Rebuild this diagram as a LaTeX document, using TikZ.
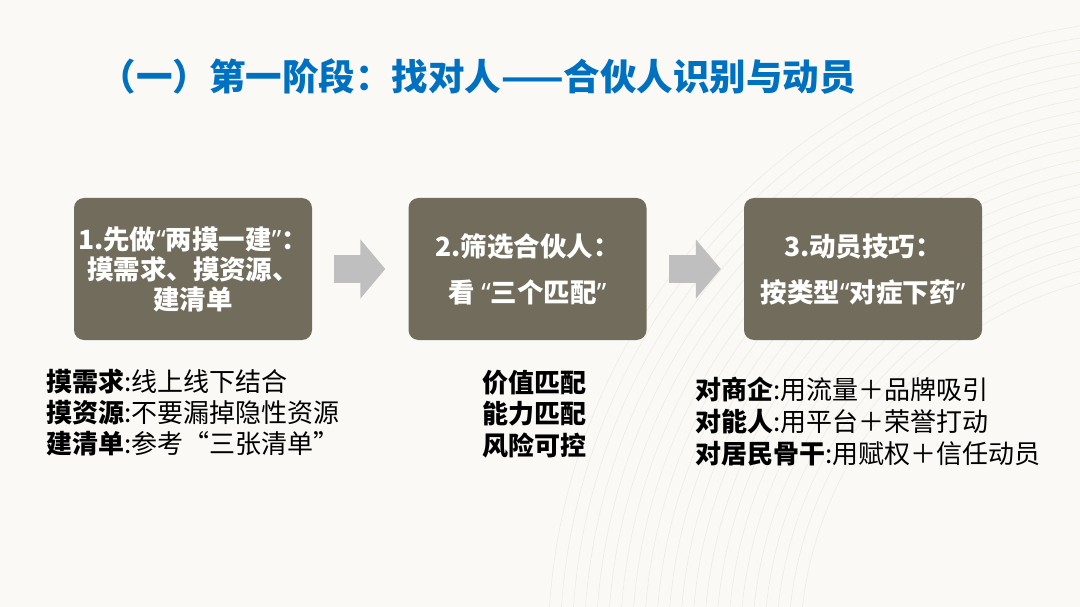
\documentclass[tikz,border=0pt]{standalone}
\usepackage{fontspec}
\setmainfont{Noto Sans CJK SC}
\newfontfamily\latinfont{Noto Sans}
\usepackage{xcolor}
\usepackage{tikz}
\usetikzlibrary{arrows.meta}
\definecolor{paper}{HTML}{FAF9F5}
\definecolor{title}{HTML}{0070C0}
\definecolor{stage}{HTML}{726C5C}
\definecolor{flow}{HTML}{BFBFBF}
\definecolor{wave}{HTML}{EEEBE4}
\newcommand\oq{{\latinfont “}}
\newcommand\cq{{\latinfont ”}}

\begin{document}
\begin{tikzpicture}[x=1pt,y=-1pt,
  stagebox/.style={fill=stage,rounded corners=10pt,minimum width=238pt,minimum height=142pt,
    text=white,font=\fontsize{26.5}{30}\selectfont\bfseries,align=center,inner sep=0pt},
  flowarrow/.style={flow,line width=28pt,-{Triangle[length=25pt,width=58pt]},shorten <=22pt,shorten >=23pt},
  list/.style={font=\fontsize{26}{31}\selectfont,inner sep=0pt}]
\fill[paper] (0,0) rectangle (1080,607);
\begin{scope}
\clip (0,0) rectangle (1080,607);
\foreach \r in {380,392,...,640} \draw[wave,line width=.6pt] (1180,650) circle (\r);
\end{scope}
\node[anchor=west,title,font=\fontsize{36.5}{40}\selectfont\bfseries] (head) at (96,77) {（一）第一阶段：找对人——合伙人识别与动员};
\node[stagebox] (find) at (193,269) {1.先做\oq 两摸一建\cq：\\摸需求、摸资源、\\建清单};
\node[stagebox] (pick) at (527.5,269) {2.筛选合伙人：\\[16pt]看 \oq 三个匹配\cq};
\node[stagebox] (move) at (863,269) {3.动员技巧：\\[16pt]按类型\oq 对症下药\cq};
\draw[flowarrow] (find) -- (pick);
\draw[flowarrow] (pick) -- (move);
\node[list,anchor=west,align=left] (findlist) at (46,413) {\textbf{摸需求}:线上线下结合\\\textbf{摸资源}:不要漏掉隐性资源\\\textbf{建清单}:参考“三张清单”};
\node[list,align=center,font=\fontsize{26}{31.5}\selectfont\bfseries] (picklist) at (534,414) {价值匹配\\能力匹配\\风险可控};
\node[list,anchor=west,align=left,font=\fontsize{26}{32}\selectfont] (movelist) at (695,422) {\textbf{对商企}:用流量＋品牌吸引\\\textbf{对能人}:用平台＋荣誉打动\\\textbf{对居民骨干}:用赋权＋信任动员};
\end{tikzpicture}
\end{document}
